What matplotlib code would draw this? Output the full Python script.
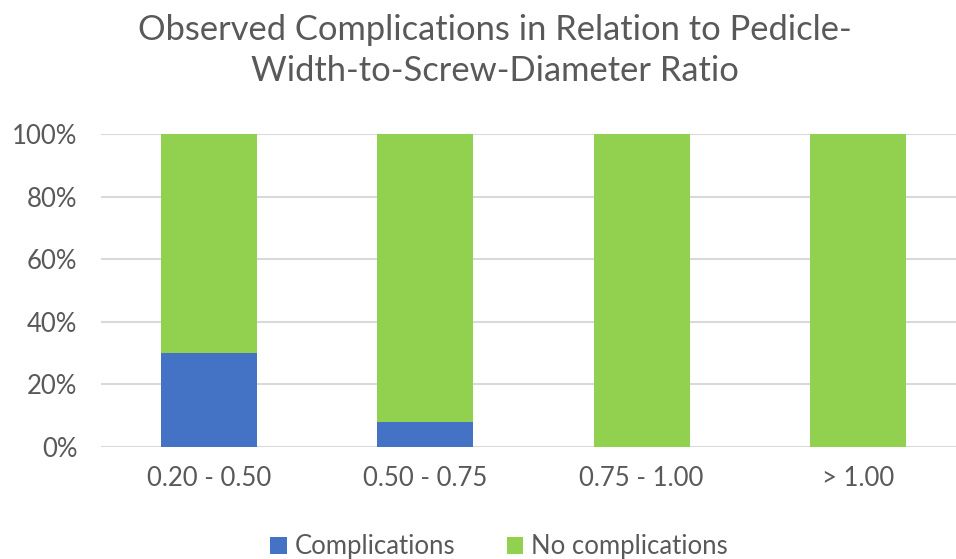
import numpy as np
import matplotlib
matplotlib.use("Agg")
import matplotlib.pyplot as plt
from matplotlib.ticker import PercentFormatter

categories = ["0.20 - 0.50", "0.50 - 0.75", "0.75 - 1.00", "> 1.00"]
complications = [30, 8, 0, 0]
no_complications = [70, 92, 100, 100]

plt.rcParams["font.family"] = ["Lato", "DejaVu Sans"]
text_color = "#595959"

fig = plt.figure(figsize=(9.56, 5.59), dpi=100)
ax = fig.add_axes([101 / 956, 112 / 559, 865 / 956, 313 / 559])

x = np.arange(len(categories))
width = 0.444
ax.bar(x, complications, width, color="#4472C4", label="Complications", zorder=3)
ax.bar(x, no_complications, width, bottom=complications, color="#92D050",
       label="No complications", zorder=3)

ax.set_xlim(-0.5, len(categories) - 0.5)
ax.set_ylim(0, 100)
ax.set_yticks(np.arange(0, 101, 20))
ax.yaxis.set_major_formatter(PercentFormatter(decimals=0))
ax.set_xticks(x, categories)
ax.tick_params(axis="both", length=0, labelsize=18.5, colors=text_color)
ax.tick_params(axis="x", pad=14)
ax.tick_params(axis="y", pad=17)
ax.grid(axis="y", color="#D9D9D9", linewidth=1.5, zorder=0)
for s in ax.spines.values():
    s.set_visible(False)

fig.text(0.518, 0.975, "Observed Complications in Relation to Pedicle-\nWidth-to-Screw-Diameter Ratio",
         ha="center", va="top", fontsize=24.8, color=text_color, linespacing=1.35)

fig.legend(loc="center", bbox_to_anchor=(0.522, 0.022), ncol=2, frameon=False,
           fontsize=18.5, labelcolor=text_color, handlelength=0.65, handleheight=0.65,
           handletextpad=0.3, columnspacing=2.0)

fig.savefig("out.png", dpi=100)
